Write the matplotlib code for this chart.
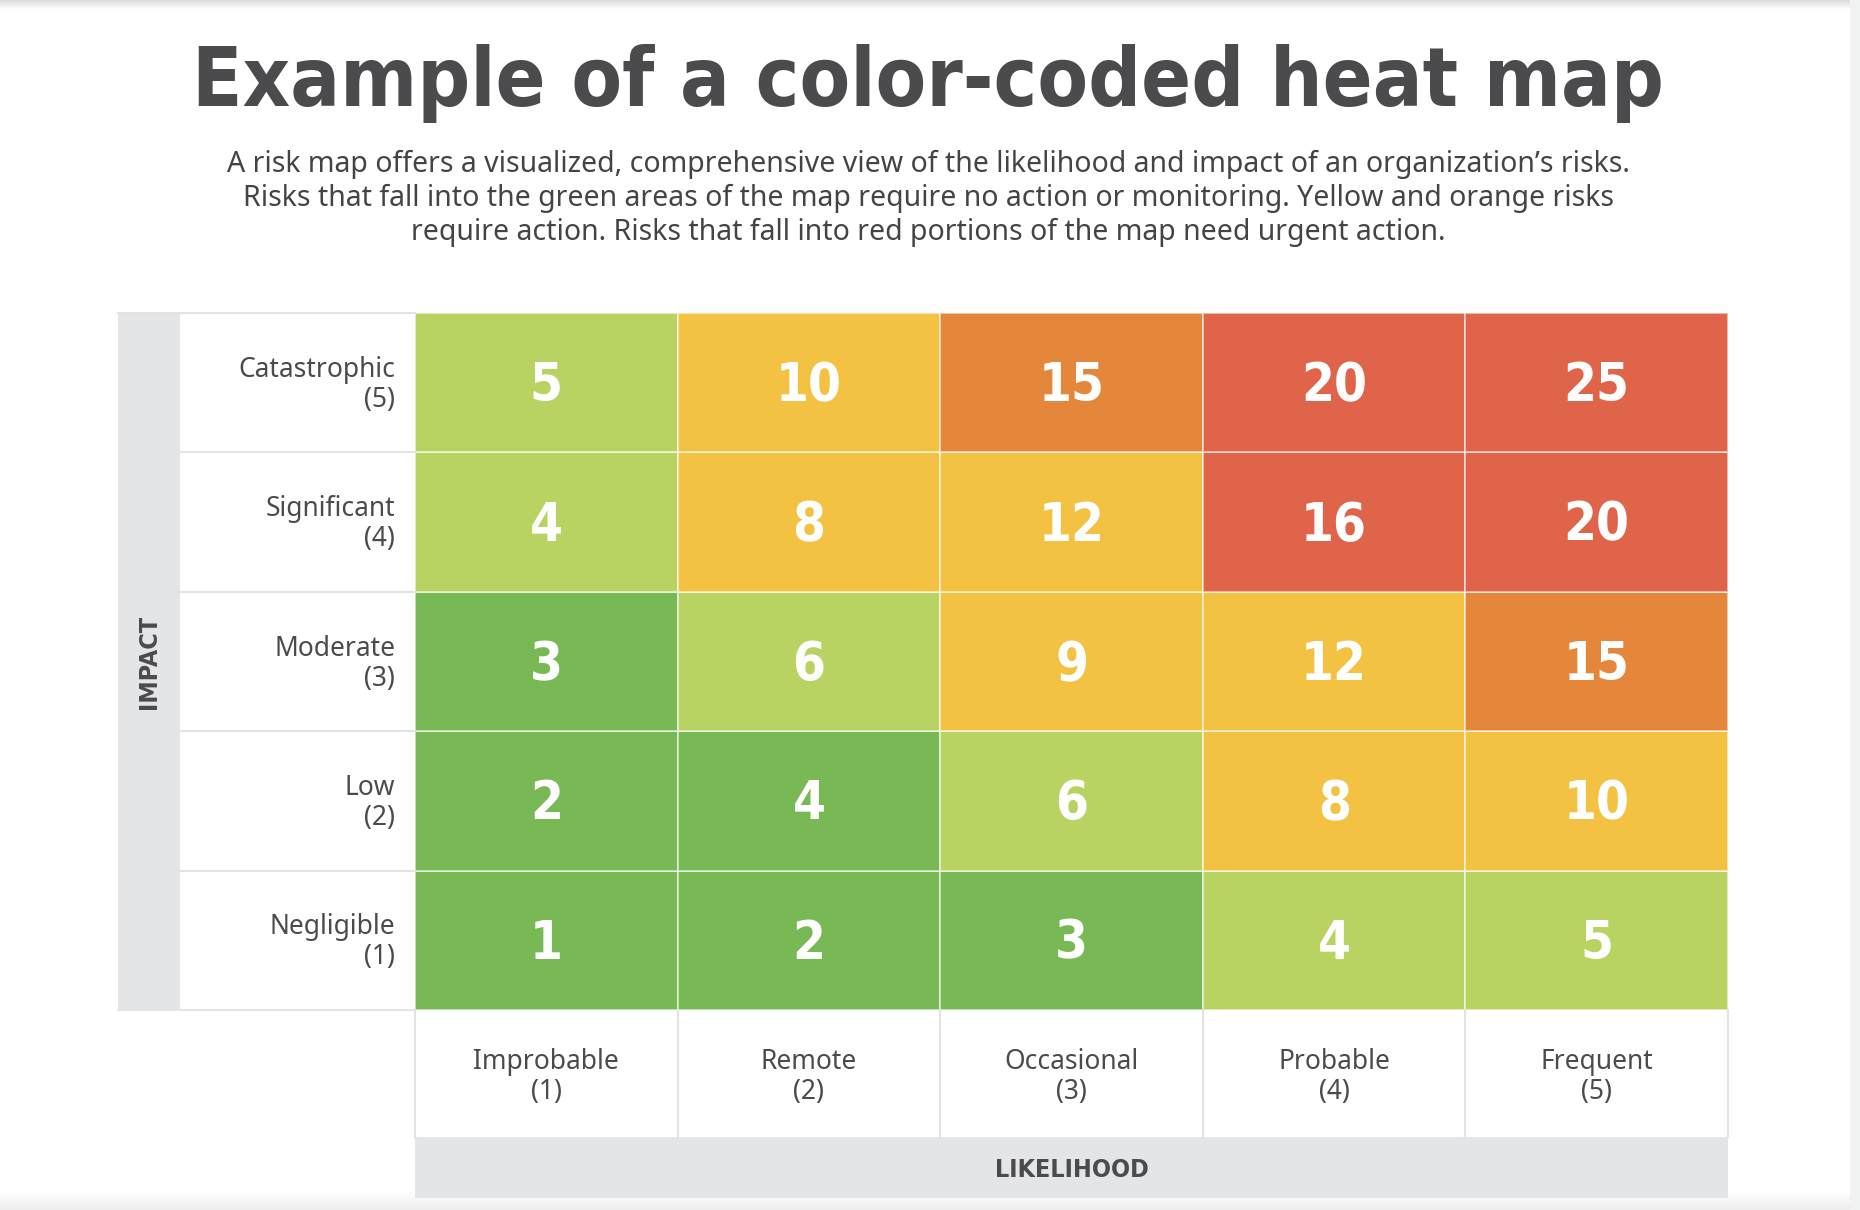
import matplotlib
matplotlib.use("Agg")
import matplotlib.pyplot as plt
from matplotlib import font_manager
from matplotlib.colors import ListedColormap
from matplotlib.patches import Rectangle
import numpy as np

# ---- data ----
impact_labels = ["Negligible", "Low", "Moderate", "Significant", "Catastrophic"]  # impact 1..5
likelihood_labels = ["Improbable", "Remote", "Occasional", "Probable", "Frequent"]  # likelihood 1..5
# printed score, rows = impact 1..5 (bottom to top), cols = likelihood 1..5
scores = [
    [1, 2, 3, 4, 5],
    [2, 4, 6, 8, 10],
    [3, 6, 9, 12, 15],
    [4, 8, 12, 16, 20],
    [5, 10, 15, 20, 25],
]
# colour band of each cell: 0 green, 1 light green, 2 yellow, 3 orange, 4 red
bands = [
    [0, 0, 0, 1, 1],
    [0, 0, 1, 2, 2],
    [0, 1, 2, 2, 3],
    [1, 2, 2, 4, 4],
    [1, 2, 3, 4, 4],
]
band_colors = ["#78b855", "#b9d362", "#f4c242", "#e4873a", "#e0644a"]

title = "Example of a color-coded heat map"
subtitle = [
    "A risk map offers a visualized, comprehensive view of the likelihood and impact of an organization\u2019s risks.",
    "Risks that fall into the green areas of the map require no action or monitoring. Yellow and orange risks",
    "require action. Risks that fall into red portions of the map need urgent action.",
]

# ---- fonts ----
names = {f.name for f in font_manager.fontManager.ttflist}
has_cond = any(f.name == "DejaVu Sans" and f.stretch == "condensed"
               for f in font_manager.fontManager.ttflist)
cond = "condensed" if has_cond else "normal"
body = "Noto Sans" if "Noto Sans" in names else "DejaVu Sans"
txt_col = "#4b4b4d"
grid_line = "#e3e3e3"

W, H = 1860, 1210
fig = plt.figure(figsize=(W / 100, H / 100), dpi=100)
fig.patch.set_facecolor("white")

# background axes in pixel coordinates (screenshot edges)
bg = fig.add_axes([0, 0, 1, 1])
bg.set_xlim(0, W)
bg.set_ylim(H, 0)
bg.axis("off")
top_grad = np.linspace(0.86, 1.0, 10).reshape(-1, 1)
bg.imshow(top_grad, cmap="gray", vmin=0, vmax=1, extent=[0, W, 10, 0], aspect="auto")
bot_grad = np.linspace(1.0, 0.93, 20).reshape(-1, 1)
bg.imshow(bot_grad, cmap="gray", vmin=0, vmax=1, extent=[0, W, H, H - 20], aspect="auto")
bg.add_patch(Rectangle((1850, 0), 10, H, color="#f1f2f2", lw=0))
bg.set_xlim(0, W)
bg.set_ylim(H, 0)

# grid layout (pixels)
gx0, gx1 = 415, 1728
gy0, gy1 = 313, 1010
ax = fig.add_axes([gx0 / W, 1 - gy1 / H, (gx1 - gx0) / W, (gy1 - gy0) / H])
n = len(likelihood_labels)
cmap = ListedColormap(band_colors)
ax.pcolormesh(np.arange(n + 1), np.arange(n + 1), np.array(bands), cmap=cmap,
              vmin=-0.5, vmax=len(band_colors) - 0.5,
              edgecolors=(1, 1, 1, 0.55), linewidth=1.3)
ax.set_xlim(0, n)
ax.set_ylim(0, n)
ax.axis("off")

for i in range(n):
    for j in range(n):
        ax.text(j + 0.5, i + 0.475, str(scores[i][j]), ha="center", va="center",
                color="white", fontsize=38, fontweight="bold", family="DejaVu Sans",
                fontstretch=cond)

# label regions in data units of the grid
cw = (gx1 - gx0) / n
rh = (gy1 - gy0) / n
lab_x0 = -(gx0 - 180) / cw
strip_x0 = -(gx0 - 118) / cw
bot_y0 = -(1137 - gy1) / rh
band_y0 = -(1198 - gy1) / rh

# IMPACT grey strip
ax.add_patch(Rectangle((strip_x0, 0), lab_x0 - strip_x0, n, color="#e4e5e7",
                       lw=0, clip_on=False, zorder=0))
# LIKELIHOOD grey band
ax.add_patch(Rectangle((0, band_y0), n, bot_y0 - band_y0, color="#e4e5e7",
                       lw=0, clip_on=False, zorder=0))

# separators in label areas
for k in range(0, n + 1):
    ax.plot([lab_x0 if 0 < k < n else strip_x0, 0], [k, k], color=grid_line,
            lw=1.5, clip_on=False, zorder=1)
    ax.plot([k, k], [bot_y0, 0], color=grid_line, lw=1.5, clip_on=False, zorder=1)

for i, lab in enumerate(impact_labels):
    ax.text(-20 / cw, i + 0.485, f"{lab}\n({i + 1})", ha="right", va="center",
            multialignment="right", fontsize=19, color=txt_col,
            family=body, linespacing=1.1)

for j, lab in enumerate(likelihood_labels):
    ax.text(j + 0.5, bot_y0 / 2 - 0.025, f"{lab}\n({j + 1})", ha="center", va="center",
            multialignment="center", fontsize=19, color=txt_col,
            family=body, linespacing=1.1)

ax.text((strip_x0 + lab_x0) / 2, n / 2, "IMPACT", rotation=90, ha="center",
        va="center", fontsize=18, fontweight="bold", color=txt_col, fontstretch=cond)
ax.text(n / 2, (bot_y0 + band_y0) / 2 - 0.015, "LIKELIHOOD", ha="center", va="center",
        fontsize=18, fontweight="bold", color=txt_col, fontstretch=cond)

# title + subtitle, sized to the reference widths
t = bg.text(928, 106, title, ha="center", va="baseline", fontsize=60,
            fontweight="heavy", color=txt_col, fontstretch=cond)
subs = [bg.text(928, y, s, ha="center", va="baseline", fontsize=17, color="#444446",
                family=body) for s, y in zip(subtitle, [172, 206, 240])]

fig.canvas.draw()
r = fig.canvas.get_renderer()
t.set_fontsize(t.get_fontsize() * 1474 / t.get_window_extent(r).width)
f = subs[0].get_fontsize() * 1404 / subs[0].get_window_extent(r).width
for s in subs:
    s.set_fontsize(f)

fig.savefig("out.png", dpi=100, facecolor="white")
